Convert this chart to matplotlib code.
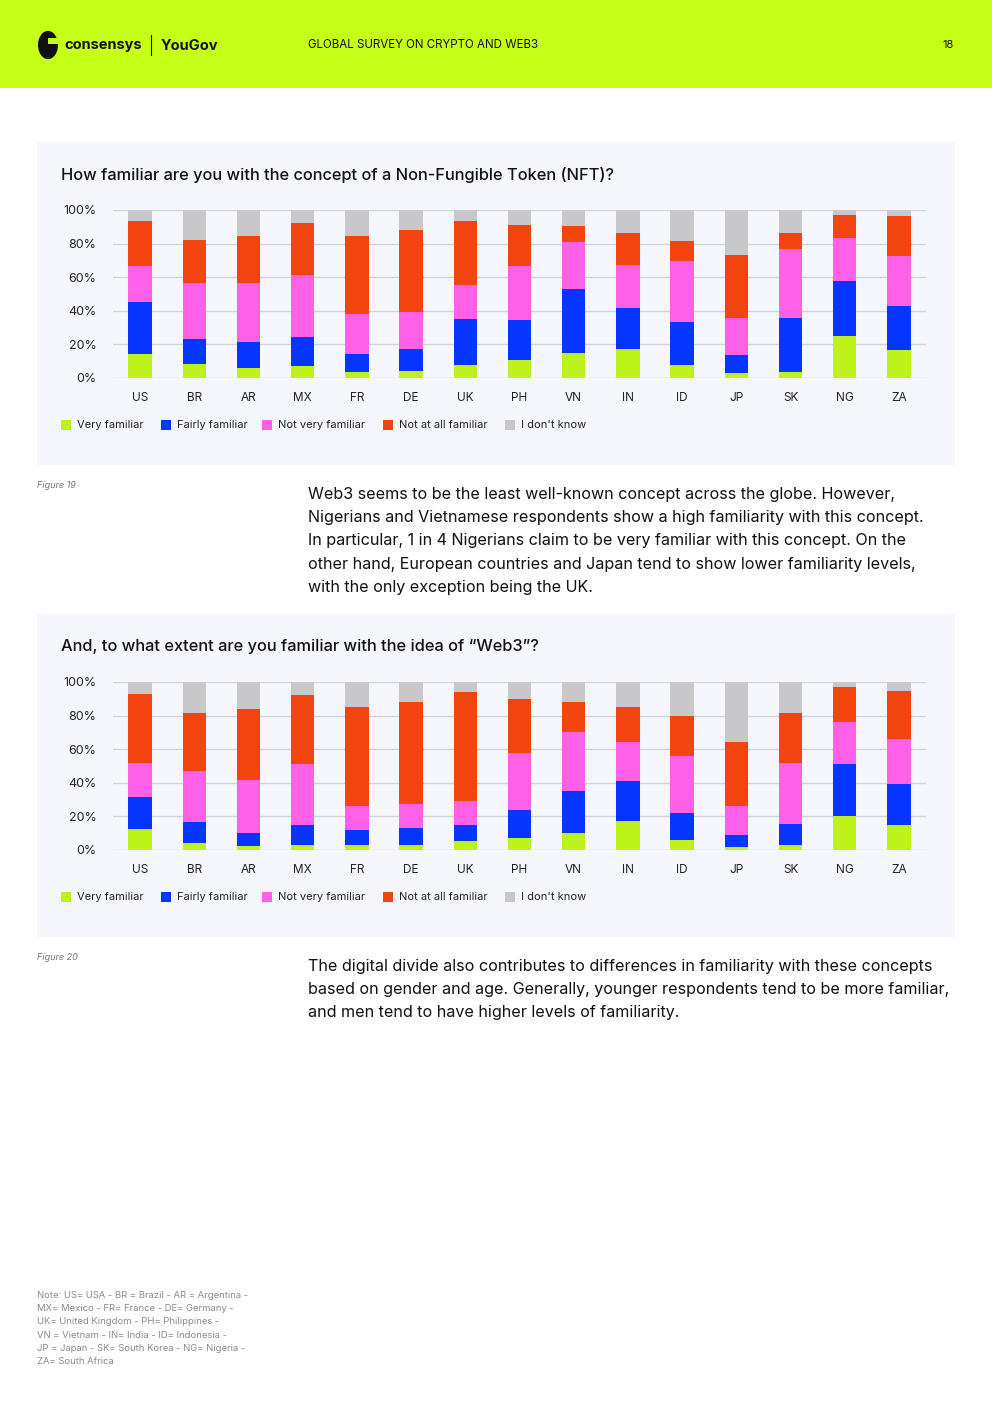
"""Page 18 du rapport Consensys / YouGov : familiarité NFT et Web3 par pays."""

import matplotlib
matplotlib.use("Agg")
import matplotlib.pyplot as plt
import numpy as np
from matplotlib.patches import Rectangle, Circle

plt.rcParams["font.family"] = ["Inter", "DejaVu Sans"]

W, H = 992, 1403

countries = ["US", "BR", "AR", "MX", "FR", "DE", "UK", "PH", "VN",
             "IN", "ID", "JP", "SK", "NG", "ZA"]
levels = ["Very familiar", "Fairly familiar", "Not very familiar",
          "Not at all familiar", "I don't know"]
colors = ["#bdf31b", "#0436ff", "#ff61e6", "#f2440f", "#c8c8cb"]

# Figure 19 - NFT (en %)
nft_very = [14.5, 8.5, 6.2, 7.4, 3.8, 4.4, 8.0, 10.9, 15.1, 17.5, 8.0, 3.2, 3.8, 25.2, 16.9]
nft_fairly = [30.5, 15.0, 15.5, 17.3, 10.7, 13.1, 27.4, 23.9, 37.6, 24.4, 25.6, 10.7, 32.2, 32.3, 26.2]
nft_not_very = [21.4, 32.8, 34.6, 36.9, 23.3, 21.5, 19.7, 31.6, 28.0, 25.1, 35.8, 22.1, 40.5, 25.6, 29.3]
nft_not_at_all = [26.8, 25.6, 28.0, 30.4, 46.5, 48.9, 38.1, 24.5, 9.6, 19.1, 11.9, 37.0, 9.6, 13.7, 23.8]
nft_dont_know = [6.8, 18.1, 15.7, 8.0, 15.7, 12.1, 6.8, 9.1, 9.7, 13.9, 18.7, 27.0, 13.9, 3.2, 3.8]

# Figure 20 - Web3 (en %)
web3_very = [12.7, 4.4, 2.6, 3.2, 3.2, 3.2, 5.6, 7.4, 10.3, 17.5, 6.2, 2.0, 3.2, 20.5, 15.1]
web3_fairly = [19.1, 12.5, 7.7, 11.9, 8.9, 10.1, 9.5, 16.7, 25.1, 23.3, 16.1, 7.1, 12.5, 30.4, 23.9]
web3_not_very = [19.7, 30.4, 31.6, 35.8, 14.3, 14.3, 14.3, 33.4, 34.6, 23.2, 33.4, 17.3, 35.8, 25.0, 26.8]
web3_not_at_all = [41.1, 34.0, 41.8, 41.1, 58.5, 60.3, 64.4, 32.2, 17.9, 20.9, 23.8, 37.6, 29.8, 20.9, 28.6]
web3_dont_know = [7.4, 18.7, 16.3, 8.0, 15.1, 12.1, 6.2, 10.3, 12.1, 15.1, 20.5, 36.0, 18.7, 3.2, 5.6]

para1 = [
    "Web3 seems to be the least well-known concept across the globe. However,",
    "Nigerians and Vietnamese respondents show a high familiarity with this concept.",
    "In particular, 1 in 4 Nigerians claim to be very familiar with this concept. On the",
    "other hand, European countries and Japan tend to show lower familiarity levels,",
    "with the only exception being the UK.",
]
para2 = [
    "The digital divide also contributes to differences in familiarity with these concepts",
    "based on gender and age. Generally, younger respondents tend to be more familiar,",
    "and men tend to have higher levels of familiarity.",
]
note_lines = [
    "Note: US= USA - BR = Brazil - AR = Argentina -",
    "MX= Mexico - FR= France - DE= Germany -",
    "UK= United Kingdom - PH= Philippines -",
    "VN = Vietnam - IN= India - ID= Indonesia -",
    "JP = Japan - SK= South Korea - NG= Nigeria -",
    "ZA= South Africa",
]

fig = plt.figure(figsize=(W / 100, H / 100), dpi=100)
fig.patch.set_facecolor("white")


def fx(x):
    return x / W


def fy(y):
    return 1 - y / H


def rect(x0, y0, x1, y1, color, z=1):
    fig.patches.append(Rectangle((fx(x0), fy(y1)), fx(x1 - x0), (y1 - y0) / H,
                                 transform=fig.transFigure, color=color, lw=0,
                                 zorder=z))


def text(x, y, s, **kw):
    fig.text(fx(x), fy(y), s, **kw)


# En-tête
rect(0, 0, W, 88, "#c6ff17")
fig.patches.append(Circle((fx(48), fy(45)), 10 / W, transform=fig.transFigure,
                          color="#111111", lw=0, zorder=2))
rect(48, 38, 60, 44, "#c6ff17", z=3)
text(64, 45, "consensys", fontsize=10.5, fontweight="bold", color="#111111",
     va="center", ha="left")
fig.add_artist(plt.Line2D([fx(151), fx(151)], [fy(35), fy(55)],
                          transform=fig.transFigure, color="#111111", lw=0.8))
text(161, 46, "YouGov", fontsize=10.5, fontweight="bold", color="#111111",
     va="center", ha="left")
text(308, 45, "GLOBAL SURVEY ON CRYPTO AND WEB3", fontsize=8.3, color="#111111",
     va="center", ha="left")
text(954, 45, "18", fontsize=8, color="#111111", va="center", ha="right")


def chart(top, title, series, fig_label, para, para_top):
    rect(37, top, 955, top + 323, "#f6f7fc", z=0.5)
    text(61, top + 33, title, fontsize=11.8, color="#111111", va="center",
         ha="left", fontweight="medium")
    ax = fig.add_axes([fx(113), fy(top + 236), fx(926 - 113), 168 / H])
    ax.set_zorder(2)
    ax.set_facecolor("none")
    x = np.arange(len(countries))
    bottom = np.zeros(len(countries))
    for vals, c in zip(series, colors):
        ax.bar(x, vals, width=0.43, bottom=bottom, color=c, zorder=3, lw=0)
        bottom += np.array(vals)
    ax.set_xlim(-0.5, 14.5)
    ax.set_ylim(0, 100)
    ax.set_yticks([0, 20, 40, 60, 80, 100])
    ax.set_yticklabels([f"{v}%" for v in range(0, 101, 20)])
    ax.set_xticks(x)
    ax.set_xticklabels(countries)
    ax.tick_params(length=0, labelsize=8.5, colors="#222222")
    ax.tick_params(axis="x", pad=10)
    ax.tick_params(axis="y", pad=12, labelsize=9)
    ax.grid(axis="y", color="#d3d4da", lw=1, zorder=0)
    for s in ax.spines.values():
        s.set_visible(False)
    # Légende
    lx = [61, 161, 262, 383, 505]
    for xx, lab, c in zip(lx, levels, colors):
        rect(xx, top + 278, xx + 10, top + 288, c, z=2)
        text(xx + 16, top + 283, lab, fontsize=8, color="#222222",
             va="center", ha="left")
    text(37, top + 344, fig_label, fontsize=6.5, style="italic", color="#777777",
         va="center", ha="left")
    for i, line in enumerate(para):
        text(308, para_top + i * 23.4, line, fontsize=11.6, color="#111111",
             va="center", ha="left")


chart(142, "How familiar are you with the concept of a Non-Fungible Token (NFT)?",
      [nft_very, nft_fairly, nft_not_very, nft_not_at_all, nft_dont_know],
      "Figure 19", para1, 494)
chart(614, "And, to what extent are you familiar with the idea of \u201cWeb3\u201d?",
      [web3_very, web3_fairly, web3_not_very, web3_not_at_all, web3_dont_know],
      "Figure 20", para2, 966)

for i, line in enumerate(note_lines):
    text(37, 1295 + i * 13.4, line, fontsize=6.8, color="#8a8a8a",
         va="center", ha="left")

fig.savefig("out.png", dpi=100, facecolor="white")
